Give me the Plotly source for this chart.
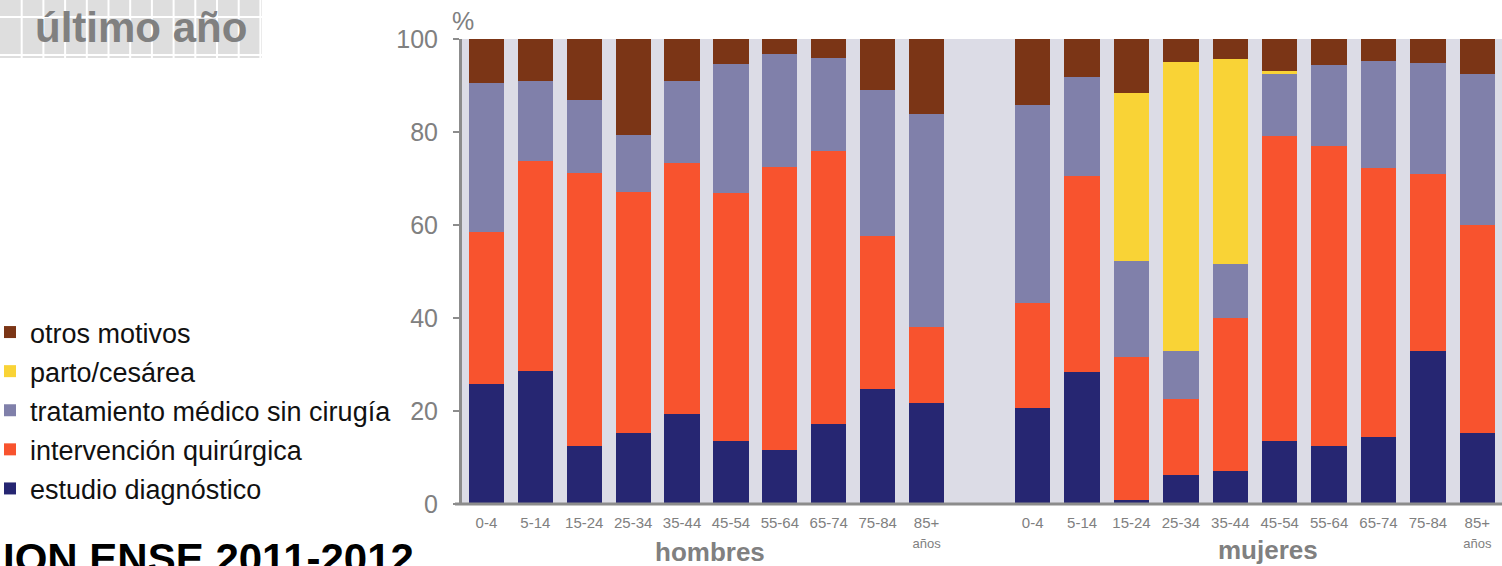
import plotly.graph_objects as go

# ---------------- data ----------------
ages = ["0-4", "5-14", "15-24", "25-34", "35-44", "45-54", "55-64", "65-74", "75-84", "85+"]
age_ticks = ["0-4", "5-14", "15-24", "25-34", "35-44", "45-54", "55-64", "65-74", "75-84",
             "85+<br><span style='font-size:13px'>años</span>"]

# hombres
h_diag = [25.9, 28.7, 12.4, 15.2, 19.3, 13.5, 11.6, 17.1, 24.8, 21.8]
h_interv = [32.6, 45.0, 58.7, 51.8, 54.1, 53.3, 60.9, 58.8, 32.9, 16.3]
h_trat = [32.0, 17.3, 15.7, 12.4, 17.6, 27.8, 24.3, 20.1, 31.4, 45.7]
h_parto = [0, 0, 0, 0, 0, 0, 0, 0, 0, 0]
h_otros = [9.5, 9.0, 13.2, 20.6, 9.0, 5.4, 3.2, 4.0, 10.9, 16.2]

# mujeres
m_diag = [20.7, 28.4, 0.8, 6.3, 7.1, 13.5, 12.4, 14.4, 32.9, 15.2]
m_interv = [22.6, 42.2, 30.9, 16.3, 32.9, 65.7, 64.5, 57.9, 38.0, 44.9]
m_trat = [42.5, 21.3, 20.5, 10.3, 11.6, 13.2, 17.5, 22.9, 24.0, 32.3]
m_parto = [0, 0, 36.1, 62.2, 44.1, 0.8, 0, 0, 0, 0]
m_otros = [14.2, 8.1, 11.7, 4.9, 4.3, 6.8, 5.6, 4.8, 5.1, 7.6]

series_names = ["estudio diagnóstico", "intervención quirúrgica", "tratamiento médico sin cirugía",
                "parto/cesárea", "otros motivos"]
colors = ["#262672", "#F8532E", "#8080AA", "#F9D336", "#7B3516"]
h_values = [h_diag, h_interv, h_trat, h_parto, h_otros]
m_values = [m_diag, m_interv, m_trat, m_parto, m_otros]

y_ticks = [0, 20, 40, 60, 80, 100]

# ---------------- layout geometry ----------------
W, H = 1502, 566
L, R, T, B = 462, 0, 39, 62
PW, PH = W - L - R, H - T - B


def px(x):
    return (x - L) / PW


def py(y):
    return (H - B - y) / PH


FONT = "Liberation Sans, Arial, sans-serif"
GREY = "#808080"
AX = "#8C8C8C"

fig = go.Figure()
n = len(series_names)
for i, (name, hv, mv, col) in enumerate(zip(series_names, h_values, m_values, colors)):
    fig.add_trace(go.Bar(x=ages, y=hv, name=name, marker=dict(color=col, line=dict(width=0)),
                         xaxis="x", yaxis="y", legendgroup=name, showlegend=False,
                         legendrank=n - i, hoverinfo="skip"))
    fig.add_trace(go.Bar(x=ages, y=mv, name=name, marker=dict(color=col, line=dict(width=0)),
                         xaxis="x2", yaxis="y", legendgroup=name, showlegend=True,
                         legendrank=n - i, hoverinfo="skip"))

xcommon = dict(type="category", tickvals=ages, ticktext=age_ticks, showgrid=False,
               zeroline=False, showline=False, ticks="", ticklabelstandoff=8,
               tickfont=dict(family="Liberation Sans Narrow, Liberation Sans, Arial", size=15, color=GREY),
               fixedrange=True)

fig.update_layout(
    width=W, height=H,
    margin=dict(l=L, r=R, t=T, b=B, pad=0, autoexpand=False),
    paper_bgcolor="white",
    plot_bgcolor="#DCDCE6",
    barmode="stack",
    bargap=0.28,
    font=dict(family=FONT),
    xaxis=dict(domain=[0, px(951)], anchor="y", **xcommon),
    xaxis2=dict(domain=[px(1008), 1], anchor="y", **xcommon),
    yaxis=dict(range=[0, 100], tickvals=y_ticks, anchor="x", showgrid=False, zeroline=False,
               showline=True, linewidth=3, linecolor=AX, ticks="outside", ticklen=6,
               tickwidth=2, tickcolor=AX, ticklabelstandoff=10,
               tickfont=dict(family=FONT, size=25, color=GREY), fixedrange=True),
    legend=dict(x=px(-10), y=py(308), xanchor="left", yanchor="top",
                traceorder="grouped", tracegroupgap=1,
                font=dict(family=FONT, size=27, color="#111111"),
                bgcolor="rgba(0,0,0,0)", itemclick=False, itemdoubleclick=False),
    showlegend=True,
)

shapes = [
    # continuous plot background including the gap between groups
    dict(type="rect", xref="paper", yref="paper", x0=0, x1=1, y0=0, y1=1,
         fillcolor="#DCDCE6", line=dict(width=0), layer="below"),
    # x axis line spanning both groups
    dict(type="line", xref="paper", yref="paper", x0=px(455), x1=1, y0=py(504), y1=py(504),
         line=dict(color=AX, width=3), layer="above"),
    # title box
    dict(type="rect", xref="paper", yref="paper", x0=px(0), x1=px(262), y0=py(0), y1=py(58),
         fillcolor="#DEDEDE", line=dict(width=0), layer="below"),
]
for i in range(1, 13):
    xv = px(i * 21.7)
    shapes.append(dict(type="line", xref="paper", yref="paper", x0=xv, x1=xv, y0=py(0), y1=py(58),
                       line=dict(color="white", width=2), layer="below"))
for yv in (17, 55):
    shapes.append(dict(type="line", xref="paper", yref="paper", x0=px(0), x1=px(262),
                       y0=py(yv), y1=py(yv), line=dict(color="white", width=2), layer="below"))
fig.update_layout(shapes=shapes)

annotations = [
    dict(text="%", xref="paper", yref="paper", x=px(463), y=py(21), xanchor="center",
         yanchor="middle", showarrow=False, font=dict(family=FONT, size=25, color=GREY)),
    dict(text="<b>último año</b>", xref="paper", yref="paper", x=px(141), y=py(28),
         xanchor="center", yanchor="middle", showarrow=False,
         font=dict(family=FONT, size=42, color=GREY)),
    dict(text="<b>hombres</b>", xref="paper", yref="paper", x=px(710), y=py(552),
         xanchor="center", yanchor="middle", showarrow=False,
         font=dict(family=FONT, size=26, color=GREY)),
    dict(text="<b>mujeres</b>", xref="paper", yref="paper", x=px(1268), y=py(550),
         xanchor="center", yanchor="middle", showarrow=False,
         font=dict(family=FONT, size=26, color=GREY)),
    dict(text="<b>ION ENSE 2011-2012</b>", xref="paper", yref="paper", x=px(1), y=py(533),
         xanchor="left", yanchor="top", showarrow=False,
         font=dict(family=FONT, size=42, color="#000000")),
]
fig.update_layout(annotations=annotations)

fig.write_html("out.html", include_plotlyjs=True, full_html=True,
               config={"displayModeBar": False, "staticPlot": True},
               post_script="document.body.style.margin='0';document.body.style.overflow='hidden';")
